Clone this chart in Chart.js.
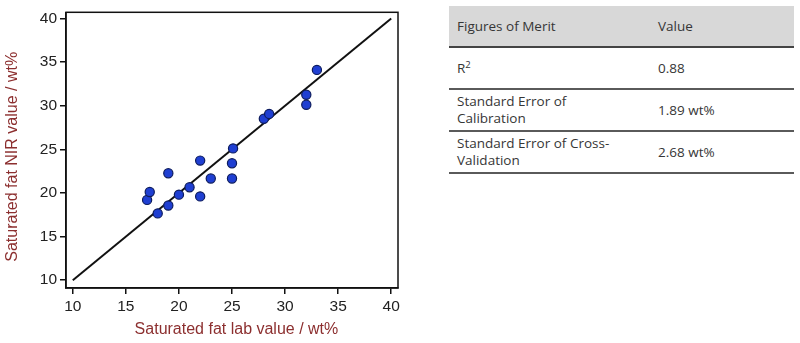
<!DOCTYPE html>
<html>
<head>
<meta charset="utf-8">
<script src="https://cdn.jsdelivr.net/npm/chart.js@4.4.1/dist/chart.umd.min.js"></script>
<style>
	body { margin: 0; background: #fff; }
	#wrap { position: absolute; left: 0; top: 0; width: 410px; height: 343px; }
	table {
		position: absolute; left: 449px; top: 6px; width: 345px;
		border-collapse: collapse; table-layout: fixed;
		font-family: "Open Sans", sans-serif; font-size: 13.5px; color: #363636;
	}
	td { padding: 0 8px; height: 40px; line-height: 17px; border-bottom: 2px solid #5a5a5a; vertical-align: middle; }
	tr.head td { background: #d8d8d8; border-bottom: 2.5px solid #444; }
	td.c1 { width: 163px; padding-right: 30px; }
	sup { font-size: 0.7em; line-height: 0; }
</style>
</head>
<body>
<div id="wrap"><canvas id="scatter"></canvas></div>
<table>
	<tr class="head"><td class="c1">Figures of Merit</td><td>Value</td></tr>
	<tr><td class="c1">R<sup>2</sup></td><td>0.88</td></tr>
	<tr><td class="c1">Standard Error of Calibration</td><td>1.89 wt%</td></tr>
	<tr><td class="c1">Standard Error of Cross-Validation</td><td>2.68 wt%</td></tr>
</table>
<script>
// lab values (x) and NIR predicted values (y), wt%
var lab_vals = [17, 17.25, 18, 19, 19, 20, 21, 22, 22, 23, 25.1, 25, 25, 28, 28.5, 32, 32, 33];
var nir_vals = [19.2, 20.1, 17.65, 22.25, 18.55, 19.8, 20.65, 23.7, 19.6, 21.65, 25.1, 23.4, 21.65, 28.5, 29.05, 31.25, 30.1, 34.1];
var fit_line = [10, 40];
var tick_vals = [10, 15, 20, 25, 30, 35, 40];

var pts = lab_vals.map((v, i) => ({ x: v, y: nir_vals[i] }));
var diag = fit_line.map((v) => ({ x: v, y: v }));

var tickFont = { family: "'Liberation Sans', Arial, sans-serif", size: 15.5 };
var titleFont = { family: "'Liberation Sans', Arial, sans-serif", size: 16 };

// box around the plot area
var frame = {
	id: "frame",
	afterDraw(chart) {
		let a = chart.chartArea, ctx = chart.ctx;
		ctx.save();
		ctx.strokeStyle = "#111";
		ctx.lineWidth = 1.5;
		ctx.strokeRect(a.left, a.top, a.right - a.left, a.bottom - a.top);
		ctx.restore();
	}
};

function setTicks(scale) {
	scale.ticks = tick_vals.map((v) => ({ value: v }));
}

var chart = new Chart(document.getElementById("scatter"), {
	type: "scatter",
	data: {
		datasets: [
			{
				type: "line",
				data: diag,
				borderColor: "#111",
				borderWidth: 2,
				pointRadius: 0,
				order: 2
			},
			{
				data: pts,
				backgroundColor: "#1f3fd2",
				borderColor: "#0d1c5e",
				borderWidth: 1.2,
				pointRadius: 4.6,
				order: 1
			}
		]
	},
	options: {
		responsive: true,
		maintainAspectRatio: false,
		animation: false,
		layout: { padding: { top: 10, right: 12, left: 0, bottom: 0 } },
		plugins: { legend: { display: false }, tooltip: { enabled: false } },
		scales: {
			x: {
				type: "linear",
				min: 9.36,
				max: 40.64,
				afterBuildTicks: setTicks,
				afterFit: (s) => { s.height = 55; },
				grid: { drawOnChartArea: false, drawTicks: true, tickLength: 6, color: "#111", lineWidth: 1.5 },
				border: { display: true, color: "#111", width: 1.5 },
				ticks: { font: tickFont, color: "#222", padding: 3, maxRotation: 0 },
				title: {
					display: true,
					text: "  Saturated fat lab value / wt%",
					color: "#8c2f2f",
					font: titleFont,
					padding: { top: 0, bottom: 3.5 }
				}
			},
			y: {
				type: "linear",
				min: 9.1,
				max: 40.7,
				afterBuildTicks: setTicks,
				afterFit: (s) => { s.width = 66; },
				grid: { drawOnChartArea: false, drawTicks: true, tickLength: 6, color: "#111", lineWidth: 1.5 },
				border: { display: true, color: "#111", width: 1.5 },
				ticks: { font: tickFont, color: "#222", padding: 3 },
				title: {
					display: true,
					text: "Saturated fat NIR value / wt%   ",
					color: "#8c2f2f",
					font: titleFont,
					padding: { top: 3, bottom: 0 }
				}
			}
		}
	},
	plugins: [frame]
});
</script>
</body>
</html>
